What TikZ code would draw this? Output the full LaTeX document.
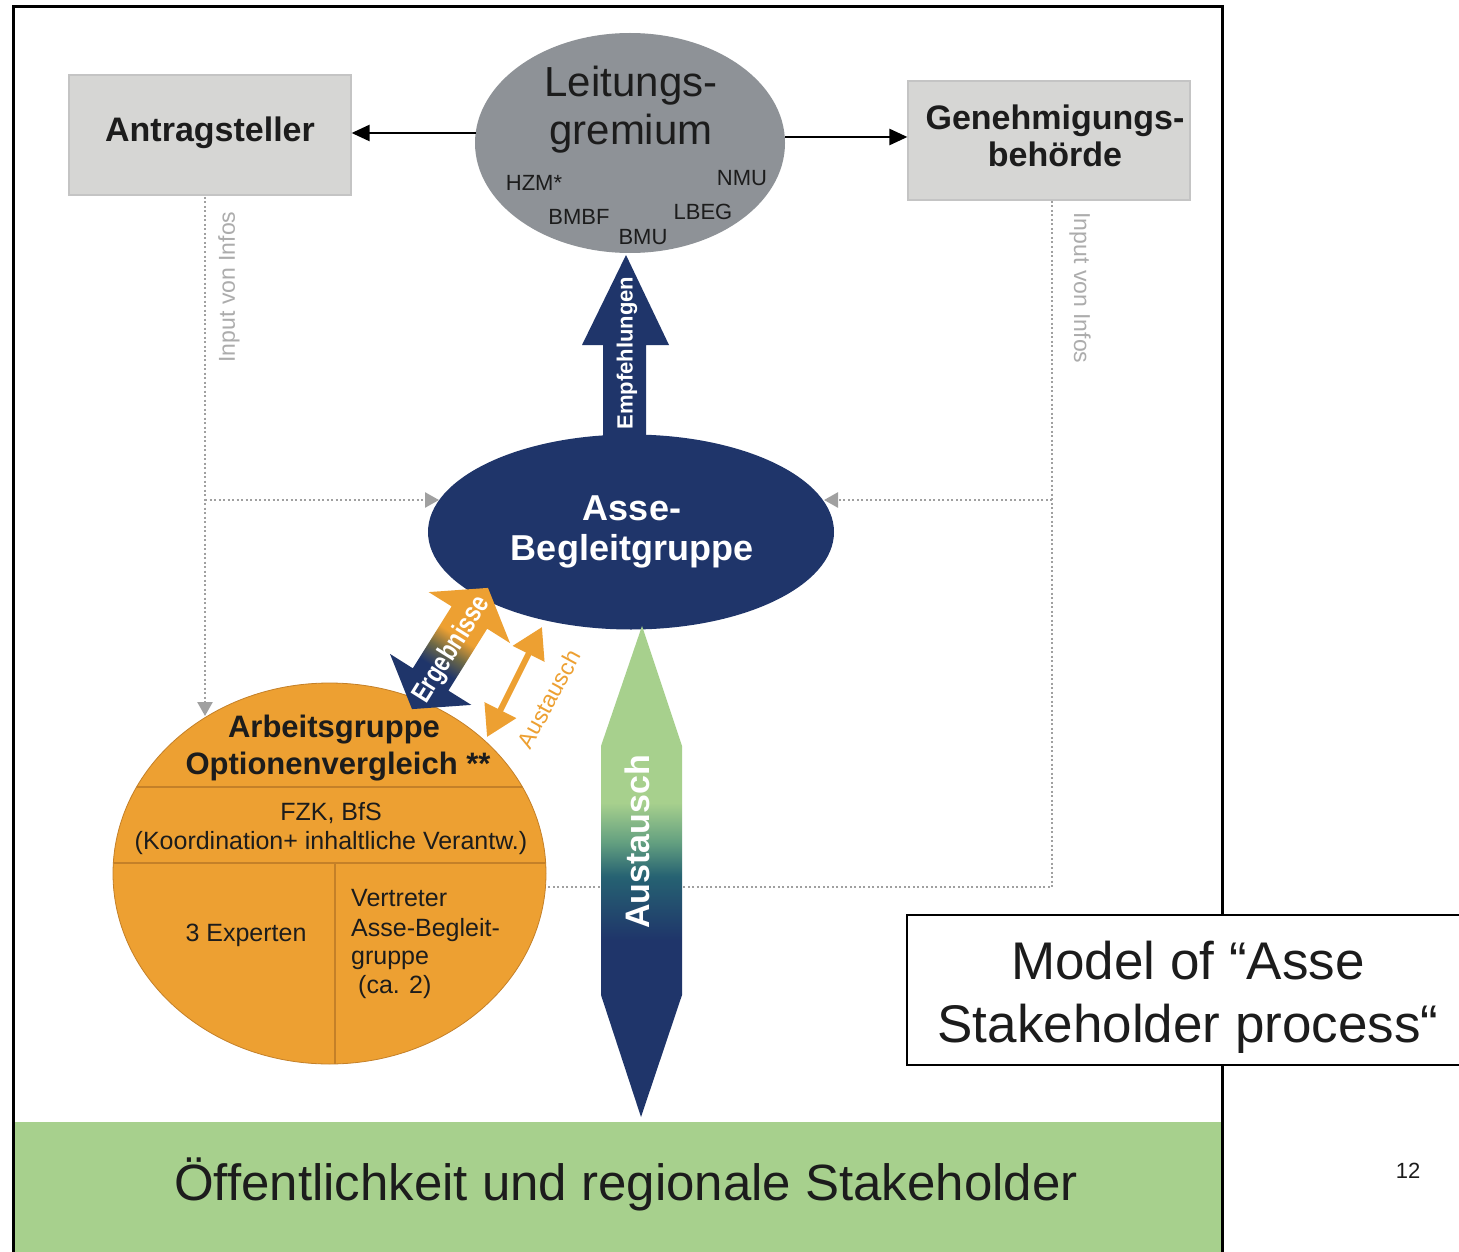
\documentclass[tikz,border=0pt]{standalone}
\usepackage{fontspec}
\setmainfont{Liberation Sans}
\usetikzlibrary{arrows.meta,shapes.geometric}
\definecolor{navy}{RGB}{31,53,106}
\definecolor{orng}{RGB}{237,160,50}
\definecolor{orngdark}{RGB}{196,128,40}
\definecolor{lgreen}{RGB}{167,208,141}
\definecolor{midgreen}{RGB}{100,160,128}
\definecolor{tealc}{RGB}{38,98,114}
\definecolor{olivec}{RGB}{110,105,70}
\definecolor{boxgray}{RGB}{214,214,212}
\definecolor{boxline}{RGB}{196,196,196}
\definecolor{lggray}{RGB}{142,146,151}
\definecolor{dotgray}{RGB}{160,160,160}
\definecolor{infogray}{RGB}{172,172,172}
\definecolor{txt}{RGB}{28,28,28}
\pgfdeclareverticalshading{austshade}{100bp}{color(0bp)=(navy); color(43bp)=(navy); color(49.5bp)=(tealc); color(53bp)=(midgreen); color(57bp)=(lgreen); color(100bp)=(lgreen)}
\pgfdeclareverticalshading{ergshade}{100bp}{color(0bp)=(navy); color(40bp)=(navy); color(48bp)=(olivec); color(56bp)=(orng); color(100bp)=(orng)}
\newcommand\myfs[2]{\fontsize{#1}{#2}\selectfont}
\begin{document}
\begin{tikzpicture}[x=1pt,y=-1pt,
  greybox/.style={draw=boxline, line width=1.2pt, fill=boxgray, rectangle, inner sep=0pt},
  lbl/.style={text=txt, inner sep=0pt, anchor=base},
  dotline/.style={draw=dotgray, line width=2.5pt, dash pattern=on 2pt off 2.5pt},
  dottip/.style={-{Triangle[length=14pt,width=15pt]}},
  blk/.style={draw=black, line width=2.5pt, -{Triangle[length=18pt,width=16pt]}},
  info/.style={text=infogray, font=\myfs{23}{26}, inner sep=0pt},
  small/.style={lbl, font=\myfs{22}{26}},
  agtext/.style={lbl, font=\myfs{25}{29}},
  divider/.style={draw=orngdark, line width=1.2pt},
]
\useasboundingbox (0,0) rectangle (1459,1252);
\fill[white] (0,0) rectangle (1459,1252);

% bottom band
\fill[lgreen] (14,1122) rectangle (1221,1252);
\node[lbl, font=\myfs{51}{60}] (pub) at (626,1200) {Öffentlichkeit und regionale Stakeholder};

% frame
\draw[line width=3pt, black] (13,1262) -- (13,7) -- (1222,7) -- (1222,1262);

% dotted info lines
\coordinate (lA) at (205,197);
\coordinate (lB) at (205,500);
\coordinate (lC) at (205,716);
\coordinate (lD) at (439,500);
\coordinate (rA) at (1052,201);
\coordinate (rB) at (1052,500);
\coordinate (rC) at (1052,887);
\coordinate (rD) at (824,500);
\coordinate (rE) at (540,887);
\draw[dotline, dottip] (lA) -- (lC);
\draw[dotline, dottip] (lB) -- (lD);
\draw[dotline] (rA) -- (rC) -- (rE);
\draw[dotline, dottip] (rB) -- (rD);
\node[info, rotate=90] (infoL) at (229,287) {Input von Infos};
\node[info, rotate=-90] (infoR) at (1080,288) {Input von Infos};

% grey boxes
\node[greybox, minimum width=282pt, minimum height=120pt] (ant) at (210,135) {};
\node[lbl, font=\bfseries\myfs{34}{37}] (antt) at (210,142) {Antragsteller};
\node[greybox, minimum width=282pt, minimum height=119pt] (gen) at (1049,140.5) {};
\node[lbl, font=\bfseries\myfs{34}{37}] (gen1) at (1055,130) {Genehmigungs-};
\node[lbl, font=\bfseries\myfs{34}{37}] (gen2) at (1055,167) {behörde};

% Leitungsgremium
\node[ellipse, fill=lggray, minimum width=310pt, minimum height=220pt, inner sep=0pt] (lg) at (630,143) {};
\node[lbl, font=\myfs{42}{48}] (lg1) at (631,97) {Leitungs-};
\node[lbl, font=\myfs{42}{48}] (lg2) at (631,145) {gremium};
\node[small] (hzm) at (534,191) {HZM*};
\node[small] (nmu) at (742,186) {NMU};
\node[small] (bmbf) at (579,225) {BMBF};
\node[small] (lbeg) at (703,220) {LBEG};
\node[small] (bmu) at (643,244) {BMU};

% black arrows
\coordinate (aL) at (476,133);
\coordinate (aR) at (785,137);
\draw[blk] (aL) -- (ant.east |- aL);
\draw[blk] (aR) -- (gen.west |- aR);

% Empfehlungen arrow
\fill[navy] (603,450) -- (603,345) -- (582,345) -- (626,255) -- (669,345) -- (646,345) -- (646,450) -- cycle;
\node[text=white, font=\bfseries\myfs{22}{26}, rotate=90, inner sep=0pt] (empf) at (627,353) {Empfehlungen};

% Asse-Begleitgruppe
\node[ellipse, fill=navy, minimum width=406pt, minimum height=195pt, inner sep=0pt] (abg) at (631,532) {};
\node[lbl, text=white, font=\bfseries\myfs{36}{40}] (abg1) at (632,520) {Asse-};
\node[lbl, text=white, font=\bfseries\myfs{36}{40}] (abg2) at (632,560) {Begleitgruppe};

% Arbeitsgruppe ellipse
\node[ellipse, fill=orng, draw=orngdark, line width=0.8pt, minimum width=433pt, minimum height=381pt, inner sep=0pt] (ag) at (329.5,873.5) {};
\begin{scope}
  \clip (329.5,873.5) ellipse [x radius=216.5, y radius=190.5];
  \draw[divider] (100,787) -- (560,787);
  \draw[divider] (100,863) -- (560,863);
  \draw[divider] (335,863) -- (335,1070);
\end{scope}
\node[lbl, font=\bfseries\myfs{31}{37}] (ag1) at (334,737) {Arbeitsgruppe};
\node[lbl, font=\bfseries\myfs{31}{37}] (ag2) at (338,774) {Optionenvergleich **};
\node[agtext] (fzk) at (331,820) {FZK, BfS};
\node[agtext] (koord) at (331,849) {(Koordination+ inhaltliche Verantw.)};
\node[agtext] (exp) at (246,941) {3 Experten};
\node[agtext, anchor=base west] (v1) at (351,906) {Vertreter};
\node[agtext, anchor=base west] (v2) at (351,936) {Asse-Begleit-};
\node[agtext, anchor=base west] (v3) at (351,964) {gruppe};
\node[agtext, anchor=base west] (v4) at (358,993) {(ca. 2)};

% Austausch big arrow
\shade[shading=austshade] (642,626) -- (682,746) -- (682,995) -- (641,1117) -- (601,995) -- (601,746) -- cycle;
\node[text=white, font=\bfseries\myfs{34}{38}, rotate=90, inner sep=0pt] (aust) at (637,842) {Austausch};

% Ergebnisse arrow
\shade[shading=ergshade, shading angle=-32.1] (488.0,587.9) -- (510.0,643.1) -- (487.2,628.7) -- (448.4,690.6) -- (471.3,704.9) -- (412.0,709.1) -- (390.0,653.9) -- (412.8,668.3) -- (451.6,606.4) -- (428.7,592.1) -- cycle;
\node[text=white, font=\bfseries\myfs{28}{30}, rotate=57.9, inner sep=0pt] (erg) at (452,650) {\scalebox{0.8}[1]{Ergebnisse}};

% small Austausch arrow
\coordinate (s1) at (487,737);
\coordinate (s2) at (542,627);
\draw[orng, line width=6pt, {Triangle[length=30pt,width=34pt]}-{Triangle[length=30pt,width=34pt]}] (s1) -- (s2);
\node[text=orng, font=\myfs{23}{26}, rotate=61.5, inner sep=0pt] (aust2) at (549,699) {Austausch};

% Model box
\node[draw=black, line width=2pt, fill=white, minimum width=556pt, minimum height=150pt, inner sep=0pt] (model) at (1185,990) {};
\node[lbl, font=\myfs{53}{63}] (m1) at (1188,979) {Model of “Asse};
\node[lbl, font=\myfs{53}{63}] (m2) at (1188,1042) {Stakeholder process“};

% page number
\node[lbl, font=\myfs{22}{26}] (pg) at (1408,1178) {12};
\end{tikzpicture}
\end{document}
